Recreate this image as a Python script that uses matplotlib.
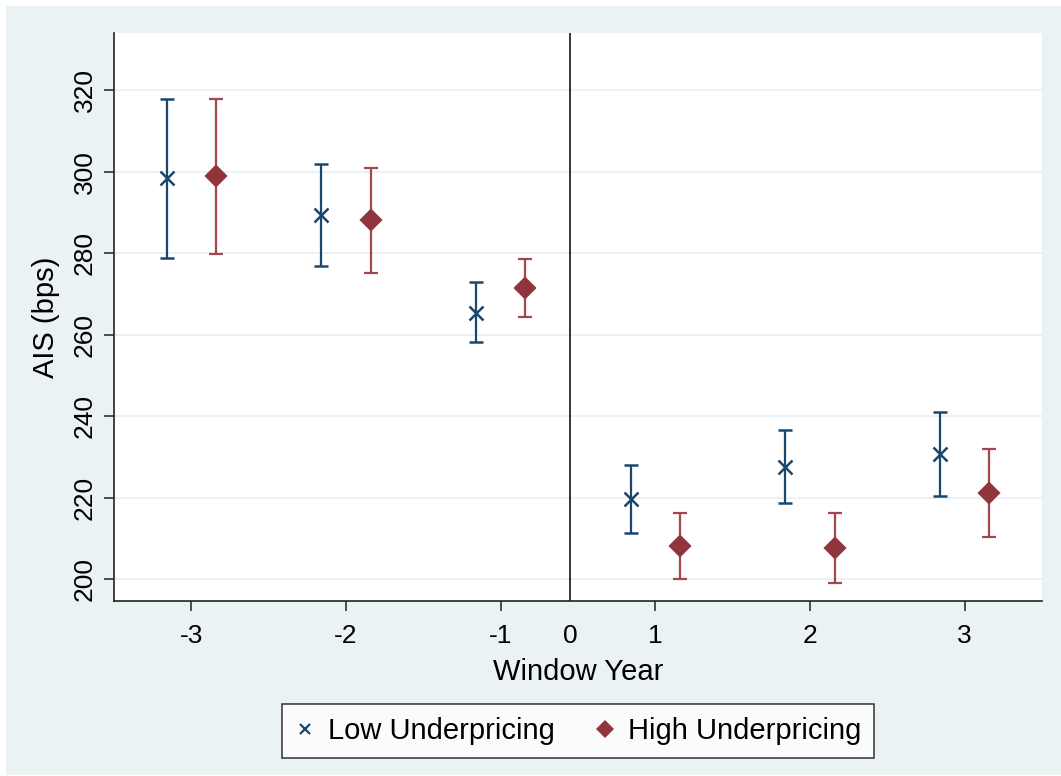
"""
AIS (bps) by window year for low and high underpricing groups,
with confidence intervals, in the Stata s2color look.
"""

import numpy as np
import matplotlib.pyplot as plt
from matplotlib.patches import Rectangle
from matplotlib.lines import Line2D

plt.rcParams['font.family'] = ['Liberation Sans', 'DejaVu Sans']

# data
years = [-3, -2, -1, 1, 2, 3]
year_labels = ['-3', '-2', '-1', '1', '2', '3']

low_mean = np.array([298.4, 289.4, 265.4, 219.8, 227.7, 230.8])
low_upper = np.array([318.0, 302.0, 273.0, 228.1, 236.7, 241.2])
low_lower = np.array([279.0, 276.9, 258.2, 211.5, 218.8, 220.4])

high_mean = np.array([299.0, 288.2, 271.6, 208.2, 207.6, 221.1])
high_upper = np.array([318.0, 301.0, 278.7, 216.2, 216.2, 231.9])
high_lower = np.array([279.8, 275.1, 264.5, 200.0, 199.0, 210.3])

y_ticks = [200, 220, 240, 260, 280, 300, 320]

NAVY = '#1a476f'
MAROON = '#90353b'
MAROON_BAR = '#a3474e'
BG = '#eaf2f3'

# pre-period years sit half a step right, post-period half a step left
pos = np.array([y + 0.5 if y < 0 else y - 0.5 for y in years])
zero_pos = -0.05
offset = 0.16

fig = plt.figure(figsize=(10.61, 7.76), dpi=100, facecolor='white')
fig.patches.append(Rectangle((6 / 1061, 1 / 776), 1, 1 - 7 / 776,
                             transform=fig.transFigure, facecolor=BG,
                             edgecolor='none', zorder=-10))

ax = fig.add_axes([114 / 1061, 1 - 601 / 776, (1042 - 114) / 1061, (601 - 33) / 776])
ax.set_facecolor('white')

ax.errorbar(pos - offset, low_mean, yerr=[low_mean - low_lower, low_upper - low_mean],
            fmt='x', color=NAVY, ecolor=NAVY, elinewidth=1.6, capsize=5, capthick=1.6,
            markersize=10, markeredgewidth=1.8, zorder=3)
ax.errorbar(pos + offset, high_mean, yerr=[high_mean - high_lower, high_upper - high_mean],
            fmt='D', color=MAROON, ecolor=MAROON_BAR, elinewidth=1.6, capsize=5, capthick=1.6,
            markersize=10, markeredgewidth=1.6, markeredgecolor=MAROON, zorder=3)

ax.axvline(zero_pos, color='black', lw=1.1, zorder=2)

ax.set_xlim(-3, 3)
ax.set_ylim(194.7, 334.1)
ax.set_yticks(y_ticks)
ax.set_yticklabels([str(t) for t in y_ticks], rotation=90, va='center')
ax.set_xticks(pos)
ax.set_xticklabels(year_labels)
ax.set_xticks([zero_pos], labels=['0'], minor=True)

ax.grid(axis='y', color=BG, lw=1.5, zorder=0)
ax.set_axisbelow(True)

for side in ['top', 'right']:
    ax.spines[side].set_visible(False)
for side in ['left', 'bottom']:
    ax.spines[side].set_linewidth(1.2)
    ax.spines[side].set_color('#222222')

ax.tick_params(axis='both', which='major', length=7.5, width=1.1, color='#222222',
               labelsize=19)
ax.tick_params(axis='y', pad=5)
ax.tick_params(axis='x', pad=9)
ax.tick_params(axis='x', which='minor', length=0, pad=16.5, labelsize=19)

ax.set_xlabel('Window Year', fontsize=21, labelpad=7)
ax.set_ylabel('AIS (bps)', fontsize=21, labelpad=9)

handles = [
    Line2D([], [], ls='none', marker='x', color=NAVY, markersize=7.5, markeredgewidth=1.6),
    Line2D([], [], ls='none', marker='D', color=MAROON, markersize=9, markeredgewidth=0),
]
leg = fig.legend(handles, ['Low Underpricing', 'High Underpricing'], loc='center',
                 bbox_to_anchor=(578 / 1061, 1 - 731 / 776), ncol=2,
                 fontsize=21, frameon=True, fancybox=False, handlelength=0.7,
                 handletextpad=0.45, columnspacing=1.35, borderpad=0.45, borderaxespad=0)
leg.get_frame().set_edgecolor('black')
leg.get_frame().set_linewidth(1.1)

fig.savefig('out.png', dpi=100, facecolor=fig.get_facecolor())
